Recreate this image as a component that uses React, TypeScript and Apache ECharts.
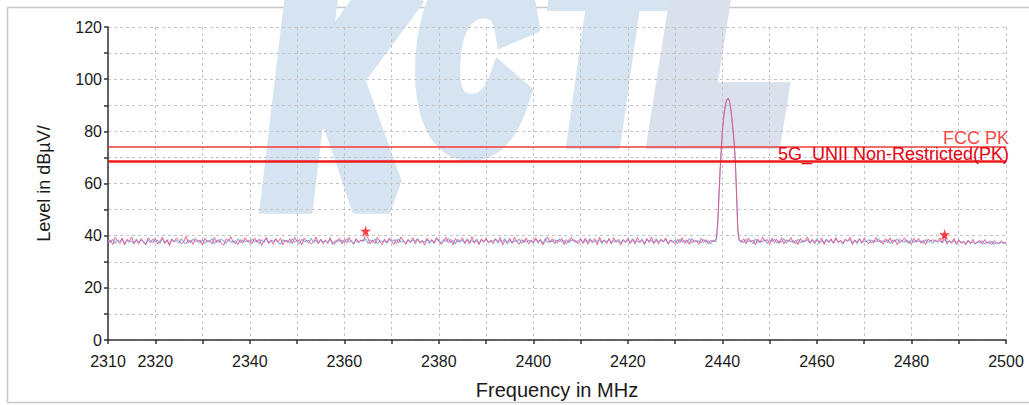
import React, { useEffect, useRef } from "react";
import * as echarts from "echarts";

// ---------- data ----------
const NOISE_STEP = 0.5; // MHz
const LOW_START = 2310;
const HIGH_START = 2444;
const PEAK_START = 2438.75;
const PEAK_STEP = 0.25;

const pkLow = [
  37.2,38.4,36.6,39.3,38.1,37.0,39.0,36.4,38.6,37.8,39.5,37.1,38.3,36.9,38.8,37.4,36.5,39.2,38.0,37.3,
  38.9,36.8,37.9,39.4,37.0,38.5,36.2,38.7,37.6,39.1,38.2,36.9,37.5,39.7,37.2,38.4,36.7,38.9,37.8,38.3,
  36.5,39.0,37.7,38.1,36.8,39.3,37.4,38.6,37.0,36.4,38.8,37.9,39.6,37.3,38.0,36.6,38.5,37.1,39.2,37.8,
  38.3,36.9,39.1,37.5,38.7,36.3,37.9,39.4,37.2,38.2,36.7,38.9,37.6,39.0,36.5,38.4,37.3,38.8,37.0,39.3,
  37.7,38.5,36.4,39.1,37.9,38.2,36.8,37.5,39.5,37.1,38.6,36.9,38.3,37.4,39.2,36.6,38.0,37.7,39.0,36.8,
  38.5,37.2,39.3,37.6,36.7,38.9,37.4,38.2,38.0,40.4,39.1,36.9,38.4,37.0,39.4,37.8,36.5,38.7,37.3,39.0,
  37.9,36.6,38.6,37.2,39.5,38.0,36.8,38.3,37.5,39.2,36.9,38.7,37.4,38.1,36.4,39.0,37.7,38.5,37.0,39.3,
  38.2,36.7,37.8,39.4,37.3,38.6,36.5,38.9,37.6,38.0,39.2,37.1,38.4,36.8,39.6,37.5,38.1,36.6,38.8,37.4,
  39.0,37.2,38.3,36.9,38.7,37.7,39.3,36.4,38.2,37.5,38.9,37.0,39.4,37.8,36.7,38.5,37.3,39.1,36.8,38.4,
  37.6,39.2,37.1,38.6,36.5,38.0,39.5,37.4,38.8,36.9,38.3,37.7,39.0,36.6,38.5,37.2,39.3,37.9,38.1,36.8,
  38.7,37.3,39.1,36.7,38.4,37.8,38.9,36.5,39.4,37.5,38.2,37.0,38.8,36.9,39.2,37.6,38.0,36.4,38.6,37.4,
  39.0,37.1,38.5,36.8,39.3,37.7,38.2,36.6,38.9,37.4,39.5,37.0,38.3,36.9,38.7,37.6,39.1,36.7,38.4,37.8,
  36.9,38.6,37.3,39.2,37.0,38.4,36.7,38.9,37.5,38.1,36.6,39.0,37.4,38.5,36.8,38.2,37.7,38.0,
];
const pkPeak = [
  39.5, 45, 55, 65, 73, 80.5, 85, 88.5, 91, 92.3, 92.6, 91.6, 89, 85, 80.5,
  75.5, 68, 56, 43, 38.6,
];
const pkHigh = [
  37.4,38.8,36.9,39.1,37.6,38.3,36.5,38.7,37.2,39.4,37.9,38.5,36.7,39.0,37.3,38.6,37.0,39.2,36.8,38.4,
  37.7,39.3,37.1,38.2,36.6,38.9,37.5,38.0,39.5,37.2,38.6,36.9,38.3,37.6,39.1,36.7,38.5,37.3,38.8,37.0,
  39.2,37.4,38.1,36.8,38.7,37.9,39.4,36.6,38.3,37.5,38.9,37.1,39.0,37.7,36.9,38.4,37.2,39.3,37.6,38.2,
  36.7,38.8,37.3,39.1,37.0,38.5,36.5,38.6,37.8,39.2,37.4,38.0,36.8,38.9,37.5,39.0,37.1,38.3,36.6,38.7,
  37.9,38.4,38.0,37.6,39.1,37.2,39.9,36.8,38.2,37.4,38.9,36.7,38.5,37.1,37.8,36.5,38.3,37.0,38.6,36.9,
  37.6,38.2,36.7,38.5,37.1,37.9,36.6,38.1,37.3,36.9,38.0,37.2,37.5,
];

const avLow = [
  38.1,37.4,38.6,37.0,38.3,37.7,38.9,36.8,38.2,37.5,38.0,36.9,38.7,37.3,38.4,37.8,36.7,38.5,37.2,38.8,
  37.6,38.3,37.0,38.9,37.4,38.1,36.8,38.6,37.7,38.2,37.1,38.8,37.5,36.9,38.4,37.3,38.7,37.8,38.0,37.2,
  38.5,37.0,38.2,37.6,38.9,36.9,38.3,37.4,38.7,37.8,37.1,38.6,37.5,38.1,36.8,38.8,37.3,38.4,37.7,38.0,
  37.2,38.7,37.6,38.3,36.9,38.5,37.4,38.9,37.0,38.2,37.8,38.6,37.3,36.7,38.4,37.9,38.1,37.1,38.8,37.5,
  38.2,36.8,38.6,37.7,38.0,37.2,38.9,37.4,38.3,36.9,38.5,37.6,38.1,37.0,38.7,37.5,36.8,38.4,37.9,38.2,
  37.3,38.8,37.6,38.1,36.9,38.5,37.2,38.3,37.8,38.9,37.0,38.4,37.5,38.7,36.8,38.2,37.7,38.0,37.1,38.6,
  37.9,38.4,37.0,38.8,37.5,38.1,36.7,38.6,37.4,38.3,37.8,38.9,37.2,38.0,37.6,38.5,36.9,38.2,37.3,38.7,
  38.0,37.1,38.5,37.7,38.9,37.3,38.2,36.8,38.6,37.5,38.4,37.0,38.8,37.6,38.1,37.2,38.7,36.9,38.3,37.8,
  38.6,37.4,38.0,37.9,38.8,37.1,38.3,37.6,38.9,36.8,38.5,37.3,38.1,37.7,38.7,37.0,38.4,37.5,38.2,37.8,
  37.2,38.6,37.8,38.3,36.9,38.9,37.4,38.0,37.7,38.5,37.1,38.8,37.5,38.2,36.8,38.4,37.9,38.6,37.3,38.1,
  38.7,37.0,38.3,37.6,38.9,37.2,38.1,37.8,38.5,36.9,38.4,37.4,38.8,37.1,38.0,37.7,38.6,37.3,38.2,37.5,
  38.4,37.1,38.8,37.6,38.0,37.3,38.7,36.9,38.5,37.8,38.2,37.0,38.9,37.4,38.3,37.7,38.6,37.2,38.1,37.5,
  38.3,37.0,38.7,37.6,38.2,37.3,38.9,37.1,38.4,37.8,38.0,37.2,38.6,37.5,38.1,36.9,38.3,37.7,
];
const avPeak = [
  38.8, 44, 54, 64.5, 72.5, 80, 85, 88.8, 91.2, 92.4, 92.5, 91.4, 88.6, 84.6,
  80, 75, 67.5, 55, 42, 38.2,
];
const avHigh = [
  38.0,37.3,38.6,37.7,38.2,36.9,38.8,37.4,38.1,37.6,38.5,37.0,38.3,37.8,38.7,37.2,38.0,37.5,38.9,37.1,
  38.4,37.6,38.2,36.8,38.7,37.3,38.0,37.9,38.5,37.1,38.3,37.6,38.8,37.0,38.1,37.4,38.6,37.7,38.2,37.3,
  38.9,37.5,38.1,37.0,38.4,37.8,38.6,37.2,38.3,36.9,38.7,37.4,38.0,37.6,38.5,37.1,38.2,37.7,38.8,37.3,
  38.1,37.6,38.5,37.0,38.3,37.8,38.7,37.2,38.0,37.5,38.4,36.9,38.6,37.3,38.2,37.7,38.0,37.1,38.5,37.4,
  38.2,37.0,38.4,37.6,38.1,37.3,38.6,37.5,37.9,37.1,38.3,36.9,38.0,37.4,37.8,37.0,38.1,37.2,37.6,36.8,
  37.7,37.2,38.0,36.9,37.5,37.1,37.8,36.8,37.4,37.0,37.6,36.9,37.3,
];

const markerFreq = [2364.5, 2487];
const markerLevel = [41.8, 40.4];

const limitNames = ["FCC PK", "5G_UNII Non-Restricted(PK)"];
const limitValues = [74, 68.5];

const yLabels = [0, 20, 40, 60, 80, 100, 120];
const xLabels = [2310, 2320, 2340, 2360, 2380, 2400, 2420, 2440, 2460, 2480, 2500];

function buildTrace(low: number[], peak: number[], high: number[]) {
  const pts: number[][] = [];
  low.forEach((v, i) => pts.push([LOW_START + i * NOISE_STEP, v]));
  peak.forEach((v, i) => pts.push([PEAK_START + i * PEAK_STEP, v]));
  high.forEach((v, i) => pts.push([HIGH_START + i * NOISE_STEP, v]));
  return pts;
}

const STAR =
  "path://M50,0 L61,35 L98,35 L68,57 L79,91 L50,70 L21,91 L32,57 L2,35 L39,35 Z";

const FONT = '"Liberation Sans", Arial, sans-serif';

function wmLetter(
  text: string,
  x: number,
  y: number,
  size: number,
  scaleX: number,
  stroke: number,
  color: string
) {
  return {
    type: "text",
    z: -10,
    silent: true,
    x,
    y,
    scaleX,
    style: {
      text,
      font: `italic bold ${size}px "Liberation Sans", Arial, sans-serif`,
      fill: color,
      stroke: color,
      lineWidth: stroke,
      lineJoin: "round",
      align: "left",
      verticalAlign: "middle",
    },
  };
}

export default function App() {
  const ref = useRef<HTMLDivElement>(null);
  useEffect(() => {
    if (!ref.current) return;
    const chart = echarts.init(ref.current, undefined, { renderer: "svg" });
    const wm = "#d6e4f1";
    const labelStyle = (color: string, dy: number) => ({
      show: true,
      position: "insideEndTop",
      distance: [-3, dy],
      color,
      fontSize: 18,
      lineHeight: 12,
      fontFamily: FONT,
    });
    chart.setOption({
      animation: false,
      backgroundColor: "#ffffff",
      graphic: [
        {
          type: "rect",
          z: -20,
          silent: true,
          shape: { x: 7.5, y: 7.5, width: 1040, height: 395 },
          style: { fill: "none", stroke: "#c8c8c8", lineWidth: 1.5 },
        },
        wmLetter("K", 272, 88, 300, 0.61, 44, wm),
        wmLetter("C", 420, 56, 240, 0.6, 40, wm),
        wmLetter("T", 552, 46, 240, 0.72, 40, wm),
        wmLetter("L", 662, 46, 240, 0.82, 40, "#dbe0ed"),
      ],
      grid: { left: 108, right: 23, top: 27, bottom: 58, containLabel: false },
      xAxis: {
        type: "value",
        min: 2310,
        max: 2500,
        interval: 10,
        name: "Frequency in MHz",
        nameLocation: "middle",
        nameGap: 40,
        nameTextStyle: { fontSize: 20, color: "#1a1a1a", fontFamily: FONT },
        axisLine: { show: true, lineStyle: { color: "#333", width: 1.5 } },
        axisTick: { show: true, length: 4, lineStyle: { color: "#333", width: 1.5 } },
        axisLabel: {
          margin: 13,
          fontSize: 16,
          color: "#1a1a1a",
          fontFamily: FONT,
          formatter: (v: number) => (xLabels.includes(v) ? String(v) : ""),
        },
        splitLine: {
          show: true,
          lineStyle: { color: "#c4c4c4", type: [3, 3], width: 1 },
        },
      },
      yAxis: {
        type: "value",
        min: 0,
        max: 120,
        interval: 10,
        name: "Level in dBµV/",
        nameLocation: "middle",
        nameGap: 55,
        nameTextStyle: { fontSize: 18, color: "#1a1a1a", fontFamily: FONT },
        axisLine: { show: true, lineStyle: { color: "#333", width: 1.5 } },
        axisTick: { show: true, length: 4, lineStyle: { color: "#333", width: 1.5 } },
        axisLabel: {
          margin: 6,
          fontSize: 16,
          color: "#1a1a1a",
          fontFamily: FONT,
          formatter: (v: number) => (yLabels.includes(v) ? String(v) : ""),
        },
        splitLine: {
          show: true,
          lineStyle: { color: "#c4c4c4", type: [3, 3], width: 1 },
        },
      },
      series: [
        {
          type: "line",
          name: "AV",
          data: buildTrace(avLow, avPeak, avHigh),
          showSymbol: false,
          symbol: "none",
          lineStyle: { color: "#7fb4ef", width: 1.1 },
          z: 3,
        },
        {
          type: "line",
          name: "PK",
          data: buildTrace(pkLow, pkPeak, pkHigh),
          showSymbol: false,
          symbol: "none",
          lineStyle: { color: "#f04a7e", width: 1, opacity: 0.85 },
          z: 4,
          markLine: {
            silent: true,
            symbol: "none",
            animation: false,
            data: [
              {
                yAxis: limitValues[0],
                lineStyle: { color: "#f03a3a", width: 1.5, type: "solid" },
                label: { ...labelStyle("#f24a4a", 3), formatter: limitNames[0] },
              },
              {
                yAxis: limitValues[1],
                lineStyle: { color: "#ee1a1a", width: 2.5, type: "solid" },
                label: { ...labelStyle("#e80010", 1), formatter: limitNames[1] },
              },
            ],
          },
        },
        {
          type: "scatter",
          name: "Peaks",
          data: markerFreq.map((f, i) => [f, markerLevel[i]]),
          symbol: STAR,
          symbolSize: 11,
          itemStyle: { color: "#ff1010" },
          z: 5,
        },
      ],
    });
    return () => chart.dispose();
  }, []);
  return (
    <div
      ref={ref}
      style={{ position: "fixed", left: 0, top: 0, width: 1029, height: 405 }}
    />
  );
}
